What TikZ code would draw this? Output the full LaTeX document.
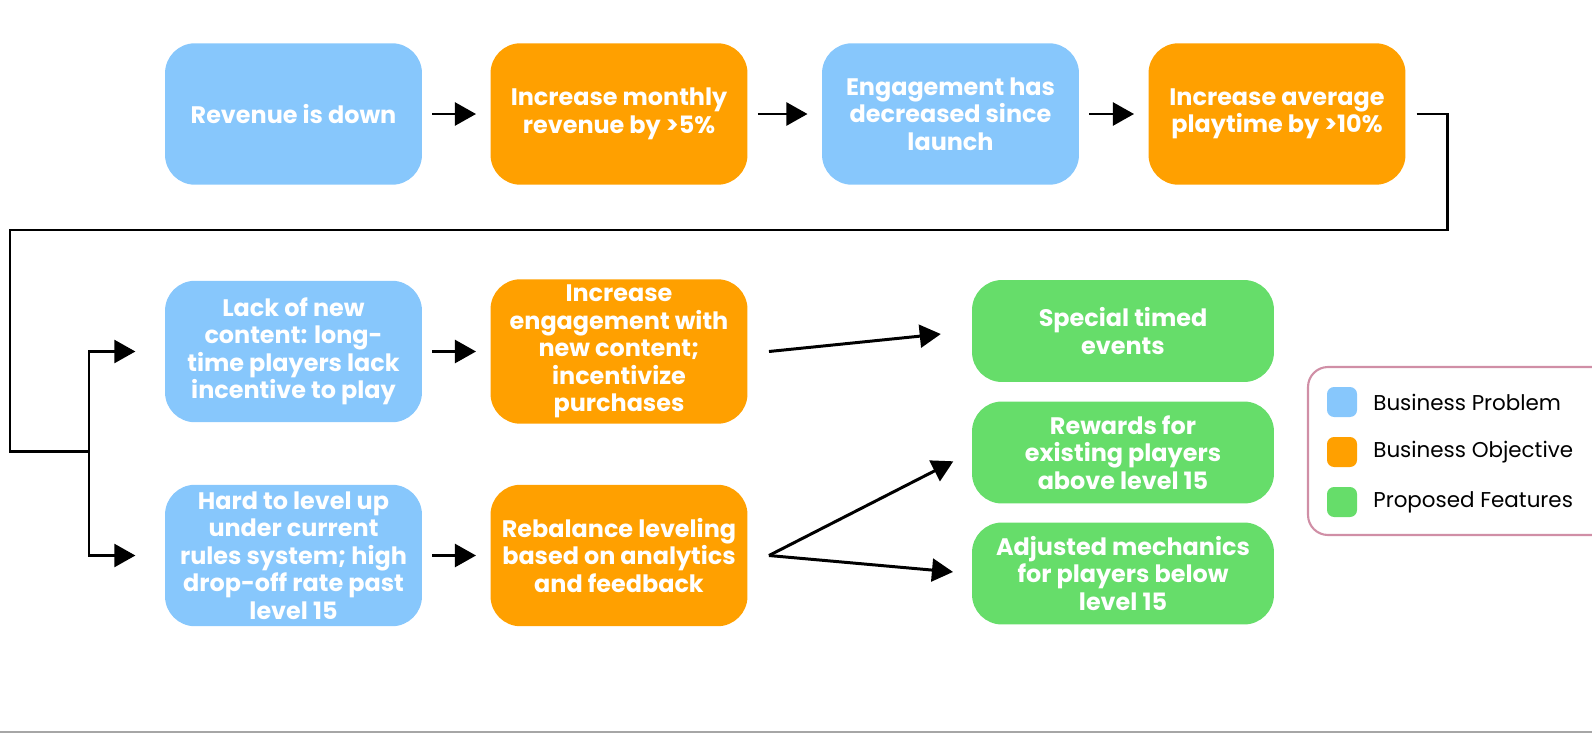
\documentclass[tikz,border=0pt]{standalone}
\usepackage{fontspec}
\setmainfont{Poppins}
\usetikzlibrary{arrows.meta, calc}
\definecolor{probblue}{HTML}{87C7FC}
\definecolor{objorange}{HTML}{FFA000}
\definecolor{featgreen}{HTML}{66DD6A}
\definecolor{legendpink}{HTML}{D08FA6}

\begin{document}
\begin{tikzpicture}[x=0.02cm, y=-0.02cm, line width=1.7pt, >={Triangle[length=12pt, width=13pt]},
        box/.style={rounded corners=0.6cm, text=white, align=center, font=\bfseries\fontsize{13.6}{15.6}\selectfont, minimum width=5.14cm, minimum height=2.83cm},
        problem/.style={box, fill=probblue},
        objective/.style={box, fill=objorange},
        feature/.style={box, fill=featgreen, minimum width=6.04cm, minimum height=2.04cm},
        legendkey/.style={fill=#1, rounded corners=4pt, minimum size=0.6cm, inner sep=0pt},
        legendtext/.style={anchor=west, font=\fontsize{12.2}{14}\selectfont}]
        \useasboundingbox (0,0) rectangle (1592,734);

        % top row
        \node[problem] (revenue) at (293.5,114) {Revenue is down};
        \node[objective] (incrrev) at (619,114) {Increase monthly\\revenue by >5\%};
        \node[problem] (engage) at (950.5,114) {Engagement has\\decreased since\\launch};
        \node[objective] (incrplay) at (1277,114) {Increase average\\playtime by >10\%};

        % lower rows
        \node[problem] (content) at (293.5,351.5) {Lack of new\\content: long-\\time players lack\\incentive to play};
        \node[objective] (increng) at (619,351.5) {Increase\\engagement with\\new content;\\incentivize\\purchases};
        \node[problem] (level) at (293.5,555.5) {Hard to level up\\under current\\rules system; high\\drop-off rate past\\level 15};
        \node[objective] (rebal) at (619,555.5) {Rebalance leveling\\based on analytics\\and feedback};

        \node[feature] (events) at (1123,331) {Special timed\\events};
        \node[feature] (rewards) at (1123,452.5) {Rewards for\\existing players\\above level 15};
        \node[feature] (mechanics) at (1123,573.5) {Adjusted mechanics\\for players below\\level 15};

        \coordinate (turn) at (1447,230);
        \coordinate (back) at (10,230);
        \coordinate (split) at (89,451);
        \coordinate (forkup) at ($(increng.east)+(20,0)$);
        \coordinate (forkdown) at ($(rebal.east)+(20,0)$);

        \draw[->, shorten <=5pt, shorten >=7.4pt] (revenue) -- (incrrev);
        \draw[->, shorten <=5pt, shorten >=7.4pt] (incrrev) -- (engage);
        \draw[->, shorten <=5pt, shorten >=7.4pt] (engage) -- (incrplay);
        \draw[->, shorten <=5.5pt, shorten >=16pt] (incrplay.east) -| (turn) -- (back) |- (split) |- (content.west);
        \draw[->, shorten >=16pt] (split) |- (level.west);
        \draw[->, shorten <=5pt, shorten >=7.4pt] (content) -- (increng);
        \draw[->, shorten <=5pt, shorten >=7.4pt] (level) -- (rebal);
        \draw[->, shorten >=17pt] (forkup) -- (events.west);
        \draw[->, shorten >=11pt] (forkdown) -- (rewards.west);
        \draw[->, shorten >=10pt] (forkdown) -- (mechanics.west);

        % legend
        \draw[legendpink, line width=1.2pt, rounded corners=0.4cm] (1308,367) rectangle (1620,535);
        \node[legendkey=probblue] (keyprob) at (1342,402) {};
        \node[legendkey=objorange] (keyobj) at (1342,452) {};
        \node[legendkey=featgreen] (keyfeat) at (1342,502) {};
        \node[legendtext] at (1366,402) {Business Problem};
        \node[legendtext] at (1366,452) {Business Objective};
        \node[legendtext] at (1366,502) {Proposed Features};

        \draw[gray!70, line width=1pt] (0,732) -- (1592,732);
    \end{tikzpicture}
\end{document}
